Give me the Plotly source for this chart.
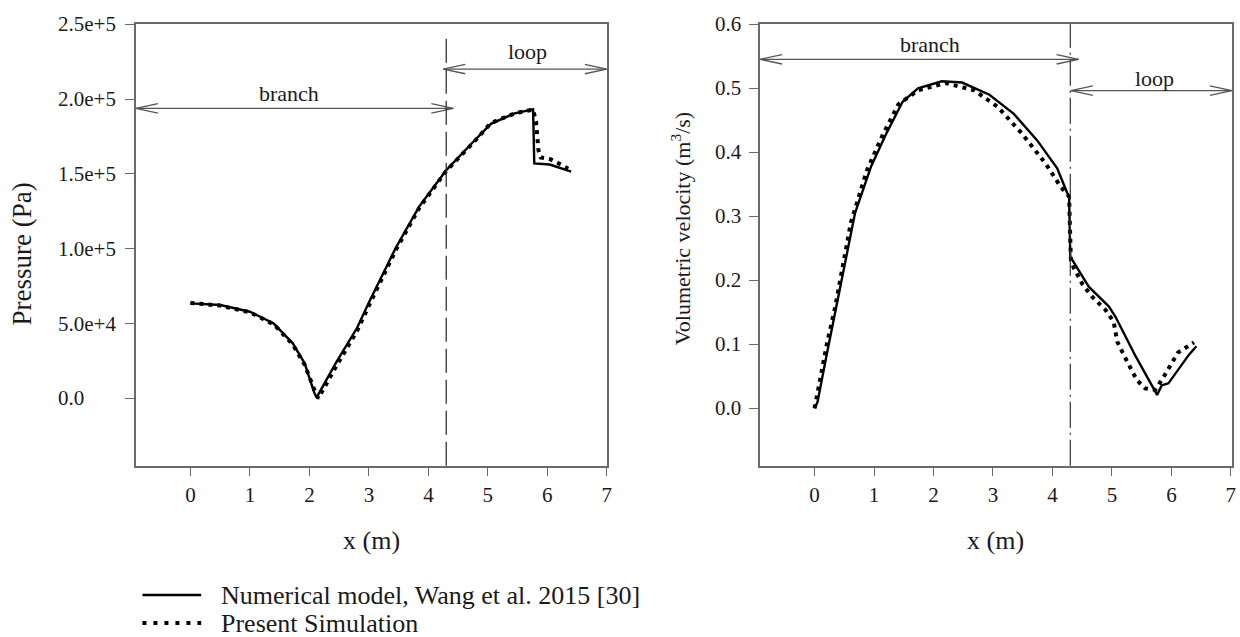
import plotly.graph_objects as go

# ---------------- data ----------------
# Pressure along the pipe, numerical model of Wang et al. (2015)
p_ref_x = [0.0, 0.5, 1.0, 1.4, 1.72, 1.92, 2.08, 2.12, 2.45, 2.8, 3.0, 3.45, 3.85, 4.3, 4.78, 5.05, 5.45, 5.76, 5.78, 6.04, 6.40]
p_ref_y = [63500, 62400, 57900, 50000, 36800, 23400, 4000, 500, 24000, 47000, 64000, 100500, 128500, 152500, 172500, 183500, 190500, 193200, 157000, 156300, 151500]

# Pressure along the pipe, present simulation
p_sim_x = [0.0, 0.5, 1.0, 1.4, 1.72, 1.92, 2.1, 2.15, 2.45, 2.8, 3.0, 3.45, 3.85, 4.3, 4.78, 5.05, 5.45, 5.76, 5.81, 5.83, 5.85, 5.89, 6.05, 6.17, 6.35]
p_sim_y = [63800, 62000, 57500, 49500, 36000, 22500, 4000, 0, 21500, 45000, 62000, 99000, 127500, 152000, 172000, 184000, 190500, 193000, 185000, 177000, 166000, 161000, 159800, 157500, 153500]

# Volumetric velocity, numerical model of Wang et al. (2015)
q_ref_x = [0.0, 0.05, 0.2, 0.35, 0.5, 0.68, 0.95, 1.21, 1.48, 1.74, 2.14, 2.48, 2.94, 3.34, 3.74, 4.08, 4.25, 4.28, 4.30, 4.61, 4.95, 5.06, 5.40, 5.76, 5.84, 5.95, 6.29, 6.42]
q_ref_y = [0.0, 0.01, 0.082, 0.150, 0.222, 0.305, 0.378, 0.430, 0.479, 0.500, 0.511, 0.509, 0.490, 0.461, 0.419, 0.375, 0.336, 0.330, 0.237, 0.190, 0.159, 0.143, 0.081, 0.021, 0.036, 0.039, 0.083, 0.097]

# Volumetric velocity, present simulation
q_sim_x = [0.0, 0.08, 0.21, 0.35, 0.61, 0.88, 1.15, 1.41, 1.74, 2.21, 2.68, 3.08, 3.48, 3.88, 4.14, 4.28, 4.31, 4.36, 4.51, 4.67, 4.89, 5.03, 5.09, 5.24, 5.42, 5.56, 5.73, 5.87, 6.01, 6.11, 6.38]
q_sim_y = [0.0, 0.039, 0.102, 0.160, 0.290, 0.372, 0.428, 0.475, 0.497, 0.508, 0.497, 0.471, 0.430, 0.383, 0.346, 0.331, 0.232, 0.219, 0.193, 0.174, 0.154, 0.135, 0.104, 0.076, 0.044, 0.031, 0.029, 0.049, 0.073, 0.087, 0.103]

# axis ticks
x_ticks = [0, 1, 2, 3, 4, 5, 6, 7]
p_ticks = [0, 50000, 100000, 150000, 200000, 250000]
p_tick_text = ["0.0", "5.0e+4", "1.0e+5", "1.5e+5", "2.0e+5", "2.5e+5"]
q_ticks = [0.0, 0.1, 0.2, 0.3, 0.4, 0.5, 0.6]
q_tick_text = ["0.0", "0.1", "0.2", "0.3", "0.4", "0.5", "0.6"]

# branch / loop junction position (m)
junction_x = 4.3

legend_names = ["Numerical model, Wang et al. 2015 [30]", "Present Simulation"]

# ---------------- styling ----------------
W, H = 1240, 637
FONT = "Liberation Serif, Times New Roman, serif"
TXT = "#1a1a1a"
FRAME = "#6a6a6a"
ARROW = "#555555"
DOT_DASH = "4px,5px"

def px_x(p):
    return p / W

def px_y(p):
    return 1 - p / H

fig = go.Figure()

fig.add_trace(go.Scatter(x=p_ref_x, y=p_ref_y, mode="lines", line=dict(color="black", width=2.4),
                         xaxis="x", yaxis="y", showlegend=False))
fig.add_trace(go.Scatter(x=p_sim_x, y=p_sim_y, mode="lines", line=dict(color="black", width=4, dash=DOT_DASH),
                         xaxis="x", yaxis="y", showlegend=False))
fig.add_trace(go.Scatter(x=q_ref_x, y=q_ref_y, mode="lines", line=dict(color="black", width=2.4),
                         xaxis="x2", yaxis="y2", showlegend=False))
fig.add_trace(go.Scatter(x=q_sim_x, y=q_sim_y, mode="lines", line=dict(color="black", width=4, dash=DOT_DASH),
                         xaxis="x2", yaxis="y2", showlegend=False))

axis_common = dict(showgrid=False, zeroline=False, showline=True, mirror=True,
                   linecolor=FRAME, linewidth=1.5, ticks="outside", ticklen=9,
                   tickcolor=FRAME, tickwidth=1.2)

y_dom = [px_y(465.7), px_y(24.3)]
fig.update_layout(
    width=W, height=H,
    margin=dict(l=0, r=0, t=0, b=0),
    paper_bgcolor="white", plot_bgcolor="white",
    font=dict(family=FONT, color=TXT),
    xaxis=dict(domain=[px_x(136.5), px_x(609.3)], range=[-0.916, 7.0], tickvals=x_ticks,
               tickfont=dict(size=21, family=FONT, color=TXT), anchor="y", **axis_common),
    yaxis=dict(domain=y_dom, range=[-45000, 250000], tickvals=p_ticks,
               showticklabels=False, anchor="x", **axis_common),
    xaxis2=dict(domain=[px_x(763.2), px_x(1236.9)], range=[-0.916, 7.018], tickvals=x_ticks,
                tickfont=dict(size=21, family=FONT, color=TXT), anchor="y2", **axis_common),
    yaxis2=dict(domain=y_dom, range=[-0.0897, 0.6], tickvals=q_ticks,
                showticklabels=False, anchor="x2", **axis_common),
)

annotations = []
shapes = []

# left-aligned y tick labels
for v, t in zip(p_ticks, p_tick_text):
    annotations.append(dict(x=px_x(56), xref="paper", y=v, yref="y", text=t, showarrow=False,
                            xanchor="left", yanchor="middle", font=dict(size=21, family=FONT, color=TXT)))
for v, t in zip(q_ticks, q_tick_text):
    annotations.append(dict(x=px_x(715.5), xref="paper", y=v, yref="y2", text=t, showarrow=False,
                            xanchor="left", yanchor="middle", font=dict(size=21, family=FONT, color=TXT)))

# axis titles
annotations += [
    dict(x=px_x(373), y=px_y(540), xref="paper", yref="paper", text="x (m)", showarrow=False,
         xanchor="center", yanchor="middle", font=dict(size=26, family=FONT, color=TXT)),
    dict(x=px_x(1000), y=px_y(540), xref="paper", yref="paper", text="x (m)", showarrow=False,
         xanchor="center", yanchor="middle", font=dict(size=26, family=FONT, color=TXT)),
    dict(x=px_x(22.5), y=px_y(254), xref="paper", yref="paper", text="Pressure (Pa)", showarrow=False,
         textangle=-90, xanchor="center", yanchor="middle", font=dict(size=27, family=FONT, color=TXT)),
    dict(x=px_x(684), y=px_y(229), xref="paper", yref="paper", text="Volumetric velocity (m<sup>3</sup>/s)",
         showarrow=False, textangle=-90, xanchor="center", yanchor="middle",
         font=dict(size=22, family=FONT, color=TXT)),
]

# branch / loop double arrows with open heads
def double_arrow(xa, ya, x0, x1, y, label, lx, ly):
    shapes.append(dict(type="line", xref=xa, yref=ya, x0=x0, x1=x1, y0=y, y1=y,
                       line=dict(color=ARROW, width=1.3)))
    for tip, sgn in ((x0, 1), (x1, -1)):
        shapes.append(dict(type="path", xref=xa, yref=ya, xsizemode="pixel", ysizemode="pixel",
                           xanchor=tip, yanchor=y,
                           path=f"M {sgn*22},-4.7 L 0,0 L {sgn*22},4.7",
                           line=dict(color=ARROW, width=1.3)))
    annotations.append(dict(x=lx, y=ly, xref=xa, yref=ya, text=label, showarrow=False,
                            xanchor="center", yanchor="middle", font=dict(size=22, family=FONT, color=TXT)))

double_arrow("x", "y", -0.916, 4.42, 193850, "branch", 1.65, 204000)
double_arrow("x", "y", 4.25, 7.0, 220100, "loop", 5.67, 231700)
double_arrow("x2", "y2", -0.916, 4.44, 0.5453, "branch", 1.945, 0.5677)
double_arrow("x2", "y2", 4.31, 7.018, 0.4963, "loop", 5.72, 0.5156)

# junction markers
shapes.append(dict(type="line", xref="x", yref="y domain", x0=junction_x, x1=junction_x, y0=0, y1=0.98,
                   line=dict(color="#333333", width=1.3, dash="24px,7px")))
shapes.append(dict(type="line", xref="x2", yref="y2 domain", x0=junction_x, x1=junction_x, y0=0, y1=1,
                   line=dict(color="#333333", width=1.2, dash="26px,5px,2px,5px")))

# legend
legend_rows = [(595, None, 2.4), (623, "4px,7px", 4)]
for (ypix, dash, w), name in zip(legend_rows, legend_names):
    ln = dict(color="black", width=w)
    if dash:
        ln["dash"] = dash
    shapes.append(dict(type="line", xref="paper", yref="paper", x0=px_x(143), x1=px_x(202),
                       y0=px_y(ypix), y1=px_y(ypix), line=ln))
    annotations.append(dict(x=px_x(220), y=px_y(ypix), xref="paper", yref="paper", text=name,
                            showarrow=False, xanchor="left", yanchor="middle",
                            font=dict(size=26, family=FONT, color=TXT)))

fig.update_layout(annotations=annotations, shapes=shapes)

fig.write_html("out.html")
